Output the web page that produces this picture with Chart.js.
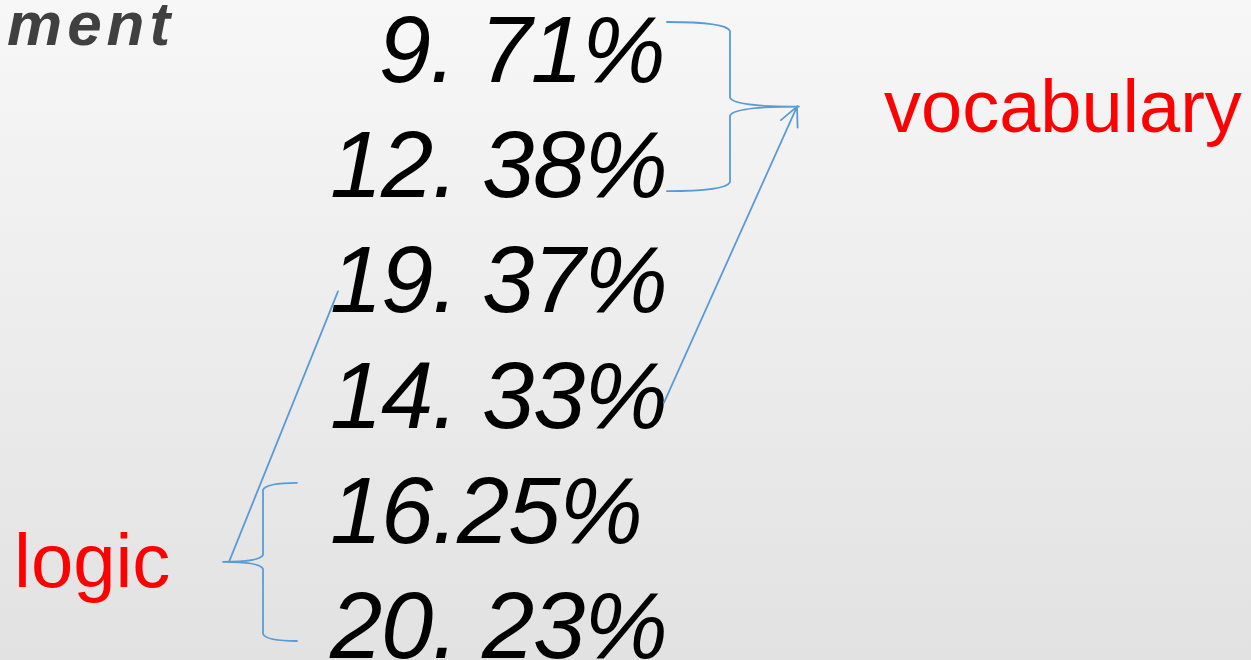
<!DOCTYPE html>
<html>
<head>
<meta charset="utf-8">
<script src="https://cdn.jsdelivr.net/npm/chart.js@4/dist/chart.umd.min.js"></script>
<style>
  html, body { margin: 0; padding: 0; width: 1251px; height: 660px; overflow: hidden;
    background: linear-gradient(to bottom, #f7f7f7 0%, #e2e2e2 100%); }
  #c { display: block; }
</style>
</head>
<body>
<canvas id="c" width="1251" height="660"></canvas>
<script>
// ---- data ----
const rowLabels = ['  9. 71%', '12. 38%', '19. 37%', '14. 33%', '16.25%', '20. 23%'];
const values = [9.71, 12.38, 19.37, 14.33, 16.25, 20.23];
const rowIndex = [0, 1, 2, 3, 4, 5];
const headingText = 'ment';
const groupLabels = ['vocabulary', 'logic'];
// vocabulary groups rows 0,1 and points to row 3; logic groups rows 4,5 and points to row 2
const vocabRows = [0, 1];
const vocabExtra = 3;
const logicRows = [4, 5];
const logicExtra = 2;

// ---- layout (pixels) ----
const W = 1251, H = 660;
const rowStep = 115.2, firstBaseline = 82;
const textX = 330;
const blue = '#5b9bd5';

function spacedText(ctx, str, x, y, spacing) {
  let cx = x;
  for (const ch of str) {
    ctx.fillText(ch, cx, y);
    cx += ctx.measureText(ch).width + spacing;
  }
}

const overlay = {
  id: 'overlay',
  afterDatasetsDraw(chart) {
    const ctx = chart.ctx;
    const ys = chart.scales.y;
    const yOf = i => ys.getPixelForValue(i);
    ctx.save();
    // values
    ctx.fillStyle = '#000';
    ctx.font = 'italic 94px "Liberation Sans", Arial, sans-serif';
    ctx.textBaseline = 'alphabetic';
    ctx.textAlign = 'left';
    chart.data.datasets[0].data.forEach((p, i) => {
      const lbl = rowLabels[i];
      const lead = lbl.length - lbl.trimStart().length;
      const x0 = textX + (lead ? lead * (ctx.measureText(' ').width - 1.2) - 1 : 0);
      spacedText(ctx, lbl.trimStart(), x0, yOf(p.y), -1.2);
    });
    // heading fragment
    ctx.fillStyle = '#404040';
    ctx.font = 'italic bold 62px "Liberation Sans", Arial, sans-serif';
    spacedText(ctx, headingText, 7, 45, 5);
    // group labels
    ctx.fillStyle = '#ff0000';
    ctx.font = '74px "Liberation Sans", Arial, sans-serif';
    ctx.fillText(groupLabels[0], 884, 132);
    ctx.font = '76px "Liberation Sans", Arial, sans-serif';
    ctx.fillText(groupLabels[1], 14, 587);

    // braces and arrows
    ctx.strokeStyle = blue;
    ctx.lineWidth = 1.8;
    ctx.lineCap = 'round';
    // vocabulary brace (right side of rows 0,1)
    const vTop = yOf(vocabRows[0]) - 60, vBot = yOf(vocabRows[1]) - 6;
    const vMid = (vTop + vBot) / 2;
    ctx.beginPath();
    ctx.moveTo(667, vTop);
    ctx.quadraticCurveTo(726, vTop, 730, vTop + 9);
    ctx.lineTo(730, vMid - 9);
    ctx.quadraticCurveTo(734, vMid, 799, vMid);
    ctx.moveTo(799, vMid);
    ctx.quadraticCurveTo(734, vMid, 730, vMid + 9);
    ctx.lineTo(730, vBot - 9);
    ctx.quadraticCurveTo(726, vBot, 667, vBot);
    ctx.stroke();
    // arrow from row 3 to vocabulary brace tip
    const ax0 = 664, ay0 = yOf(vocabExtra) - 25;
    const ax1 = 797, ay1 = vMid;
    ctx.beginPath();
    ctx.moveTo(ax0, ay0);
    ctx.lineTo(ax1, ay1);
    const ang = Math.atan2(ay1 - ay0, ax1 - ax0);
    const hl = 21;
    ctx.moveTo(ax1 - hl * Math.cos(ang - 0.45), ay1 - hl * Math.sin(ang - 0.45));
    ctx.lineTo(ax1, ay1);
    ctx.lineTo(ax1 - hl * Math.cos(ang + 0.45), ay1 - hl * Math.sin(ang + 0.45));
    ctx.stroke();

    // logic brace (left side of rows 4,5)
    const lTop = yOf(logicRows[0]) - 60, lBot = yOf(logicRows[1]) - 17;
    const lMid = (lTop + lBot) / 2;
    ctx.beginPath();
    ctx.moveTo(297, lTop);
    ctx.quadraticCurveTo(266, lTop, 263, lTop + 7);
    ctx.lineTo(263, lMid - 7);
    ctx.quadraticCurveTo(260, lMid, 223, lMid);
    ctx.moveTo(223, lMid);
    ctx.quadraticCurveTo(260, lMid, 263, lMid + 7);
    ctx.lineTo(263, lBot - 7);
    ctx.quadraticCurveTo(266, lBot, 297, lBot);
    ctx.stroke();
    // line from logic brace tip to row 2
    ctx.beginPath();
    ctx.moveTo(229, lMid);
    ctx.lineTo(338, yOf(logicExtra) - 21);
    ctx.stroke();
    ctx.restore();
  }
};

new Chart(document.getElementById('c'), {
  type: 'scatter',
  data: {
    datasets: [{
      label: 'share',
      data: values.map((v, i) => ({ x: v, y: rowIndex[i] })),
      pointRadius: 0,
      pointHoverRadius: 0,
      showLine: false
    }]
  },
  options: {
    responsive: false,
    animation: false,
    events: [],
    layout: { padding: 0 },
    plugins: { legend: { display: false }, tooltip: { enabled: false }, title: { display: false } },
    scales: {
      x: { type: 'linear', display: false, min: 0, max: 25 },
      y: { type: 'linear', display: false, reverse: true,
           min: -firstBaseline / rowStep, max: (H - firstBaseline) / rowStep }
    }
  },
  plugins: [overlay]
});
</script>
</body>
</html>
